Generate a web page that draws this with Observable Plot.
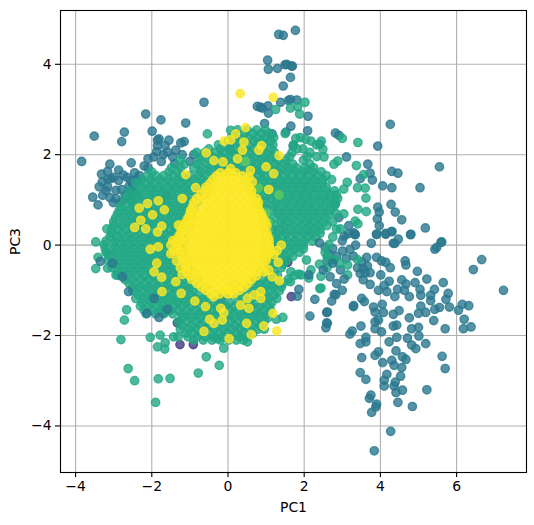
<!doctype html>
<html><head><meta charset="utf-8">
<style>html,body{margin:0;padding:0;background:#fff}svg{display:block}</style>
<script src="https://cdn.jsdelivr.net/npm/d3@7"></script>
<script src="https://cdn.jsdelivr.net/npm/@observablehq/plot@0.6"></script>
</head><body><div id="c"></div>
<script>
const tickValuesX = [-4,-2,0,2,4,6];
const tickValuesY = [-4,-2,0,2,4];
const classNames = ["a","b","c","d","e"];
const classColors = ["#443a83","#2a788e","#22a884","#5ec962","#fde725"];

const purplePts = [[-1.26,-2.2],[-.91,-2.2],[-1.33,-1.72],[1.66,-1.14],[1.57,-.38],[-.9,.9],[-1.6,1.1],[-.2,-1.2],[-1.7,-1.5]];

const tealPts = [[6.66,-.32],[6.44,-.54],[7.23,-1.0],[5.61,.07],[5.48,-.05],[5.43,-.09],[4.38,.04],[4.34,.04],[3.76,.04],[3.33,.24],
[3.9,.24],[4.14,.26],[4.3,.3],[4.47,.13],[4.8,.24],[3.01,-.13],[3.9,-.27],[4.03,-.35],[4.14,-.38],[4.26,-.5],[4.65,-.35],[4.67,-.44],[4.97,-.58],[5.22,-.75],[5.65,-.83],
[3.64,-.27],[3.51,-.37],[3.4,-.5],[3.55,-.52],[3.66,-.46],[3.47,-.63],[3.6,-.61],[3.73,-.61],[3.55,-.77],[3.73,-.87],[4.01,-.66],[3.95,-1.0],[4.1,-.89],[4.23,-.8],[4.17,-1.03],
[4.38,-1.14],[4.45,-.98],[4.56,-.77],[4.67,-.86],[4.63,-1.0],[4.76,-1.14],[4.91,-.83],[5.04,-.98],[5.06,-1.11],[5.42,-.98],[5.32,-1.11],[5.32,-1.23],[5.78,-1.07],[5.72,-1.2],[5.81,-1.37],
[5.43,-1.42],[5.55,-1.38],[5.19,-1.49],[5.06,-1.35],[5.0,-1.51],[4.76,-1.61],[4.49,-1.45],[4.34,-1.53],[6.05,-1.44],[6.15,-1.31],[6.32,-1.34],[6.2,-1.64],[6.18,-1.85],[6.38,-1.81],[5.7,-1.85],[5.4,-1.67],
[3.29,-1.36],[3.51,-1.18],[3.58,-1.25],[2.59,-1.49],[2.59,-1.72],[2.57,-1.83],[2.72,-1.24],[2.79,-1.09],[3.0,-1.0],[2.68,-.7],
[3.82,-1.37],[4.05,-1.31],[3.86,-1.48],[4.08,-1.49],[3.95,-1.66],[3.86,-1.7],[4.43,-1.77],[4.34,-1.79],[3.86,-1.85],[4.03,-1.92],[3.49,-1.79],[3.26,-1.9],[3.2,-1.97],
[4.82,-1.85],[5.0,-1.82],[5.01,-2.01],[4.71,-2.06],[4.43,-2.04],[4.23,-2.14],[3.62,-2.04],[3.62,-2.14],[3.47,-2.18],[4.82,-2.21],[4.93,-2.29],[5.19,-2.18],
[3.86,-2.44],[3.95,-2.36],[3.51,-2.49],[4.41,-2.34],[4.58,-2.47],[4.67,-2.53],[5.62,-2.46],[5.7,-2.73],[4.06,-2.6],[4.3,-2.55],[4.56,-2.71],[4.36,-2.66],[3.47,-2.82],[3.62,-2.97],[4.17,-2.86],[4.53,-2.9],[4.39,-3.03],[4.1,-2.99],[4.1,-3.12],[4.36,-3.12],[4.41,-3.26],[4.58,-3.21],[5.22,-3.2],
[3.75,-3.32],[3.71,-3.39],[3.9,-3.52],[3.88,-3.58],[3.77,-3.7],[4.46,-3.48],[4.84,-3.57],[4.27,-4.12],[3.84,-4.55],
[1.77,4.75],[1.45,4.64],[1.5,3.99],[1.67,3.96],[1.64,3.71],[1.45,3.52],[1.64,3.22],[1.81,3.21],[2.1,2.85],[4.26,2.67],[1.65,2.63],[2.09,2.53],[1.52,2.5],[2.82,2.48],[2.91,2.43],[3.93,2.19],[1.71,2.19],[2.41,2.23],[3.11,1.95],
[3.67,1.79],[3.73,1.59],[3.79,1.44],[3.47,1.47],[4.3,1.63],[4.46,1.59],[4.06,1.31],[4.3,1.27],[5.55,1.73],[5.04,1.27],[4.28,.9],[4.39,.73],[4.56,.56],[3.93,.84],[3.97,.73],[3.92,.58],[3.97,.43],[5.18,.38],[3.9,.24],[4.14,.24],[4.3,.3],[4.79,.23],[5.59,.06],[3.34,.23],[3.17,.43],[2.91,.61],[2.82,.91],
[-.63,3.16],[-2.16,2.9],[-1.76,2.77],[-1.11,2.7],[-1.99,2.52],[-2.72,2.5],[-2.79,2.29],[-3.51,2.41],[-3.84,1.85],[-3.1,1.79],[-2.54,1.82],[-2.1,1.91],[-2.1,1.71],[-3.32,1.57],[-2.87,1.66],[-3.16,1.63],[-2.87,1.43],[-3.07,1.47],[-3.38,1.29],[-3.55,1.06],[-3.41,.89],[-3.29,1.1],[-3.16,1.29],[-2.94,1.21],[-2.79,1.23],[-3.01,.94],[-2.94,1.03],[-2.55,1.43],[-2.55,1.21],[-2.33,1.54],[-2.5,1.32],[-2.42,1.14],
[-1.85,2.32],[-1.81,2.35],[-1.55,2.32],[-1.85,2.2],[-1.15,2.29],[-1.24,2.26],[-1.87,2.07],[-1.59,2.06],[-1.37,2.1],[.07,2.11],[.77,3.07],[.85,3.05],[1.05,3.08],[.96,2.69],[1.16,2.46],
[1.04,4.09],[1.33,4.66],[1.06,3.89],[1.3,3.91],[1.54,4.0],[1.69,3.96],[.9,3.03],[1.06,2.92],[1.38,3.16],[1.59,3.2],
[3.0,.1],[3.2,-.1],[3.35,.0],[3.1,-.3],[3.3,-.25],[2.95,-.55],[3.15,.25],[3.3,.27],[2.55,-.05],[2.65,-.2],[2.85,-.25],[3.05,.2],[2.75,-.08],[2.6,-.35],[2.83,-1.1],[3.3,-1.34],[2.61,-1.48],[2.61,-1.73],
[-3.3,1.4],[-3.15,1.45],[-3.0,1.5],[-2.75,1.55],[-2.65,1.5],[-2.45,1.6],[-2.4,1.45],[-2.6,1.3],[-2.7,1.1],[-2.55,1.0],[-2.8,.95],[-3.2,1.2],[-3.1,1.05],[-2.2,1.75],[-1.95,1.95],[-1.7,2.0],[-1.45,1.95],[-1.2,2.0],[-1.65,2.2],[-1.75,1.85],[-1.4,1.8],[-.9,2.0],[-1.0,1.85]];

const greenRows = [
[2.55,[.25,.5,.75,.98]],
[2.38,[.1,.32,.55,.78,1.0,1.2,1.9]],
[2.22,[-.25,.05,.3,.52,.75,.95,1.18,1.72,2.32]],
[2.05,[-.82,-.6,-.35,-.12,.1,.33,.55,.78,1.0,1.22,1.68,2.15]],
[1.88,[-1.25,-.75,-.5,-.28,-.05,.18,.4,.62,.85,1.08,1.3,1.52,1.98]],
[1.71,[-1.48,-1.25,-.9,-.68,-.45,-.22,0,.22,.45,.68,.9,1.12,1.35,1.58,1.8,2.02,2.25]],
[1.54,[-2.12,-1.9,-1.68,-1.45,-1.22,-1.0,-.78,-.55,.55,.78,1.0,1.22,1.45,1.68,1.9,2.12,2.35,2.58]],
[1.37,[-2.42,-2.2,-1.98,-1.75,-1.52,-1.3,-1.08,-.85,-.62,.68,.9,1.12,1.35,1.58,1.8,2.02,2.25,2.48]],
[1.2,[-2.6,-2.35,-2.12,-1.9,-1.68,-1.45,-1.22,-1.0,-.78,.8,1.0,1.22,1.45,1.68,1.9,2.12,2.35,2.58,2.8]],
[1.03,[-2.7,-2.48,-2.25,-2.02,-1.8,-1.58,-1.35,-1.12,.85,1.1,1.32,1.55,1.78,2.0,2.22,2.45,2.68,2.88]],
[.86,[-2.82,-2.6,-2.38,-2.15,-1.92,-1.7,-1.48,-1.25,-1.02,.95,1.2,1.42,1.65,1.88,2.1,2.32,2.55,2.78]],
[.69,[-2.9,-2.68,-2.45,-2.22,-2,-1.78,-1.55,-1.32,-1.1,1.0,1.3,1.52,1.75,1.98,2.2,2.42,2.65,2.85]],
[.52,[-3.0,-2.75,-2.52,-2.3,-2.08,-1.85,-1.62,-1.4,-1.18,1.1,1.4,1.62,1.85,2.08,2.3,2.52,2.75]],
[.35,[-3.05,-2.85,-2.62,-2.4,-2.18,-1.95,-1.72,-1.5,-1.28,1.15,1.3,1.52,1.75,1.98,2.2,2.42,2.85]],
[.18,[-3.1,-2.9,-2.68,-2.45,-2.22,-2,-1.78,-1.55,-1.32,1.2,1.4,1.62,1.85,2.08,2.3,2.75]],
[.01,[-3.25,-3,-2.78,-2.55,-2.32,-2.1,-1.88,-1.65,-1.42,1.2,1.3,1.52,1.75,1.98,2.65]],
[-.16,[-3.2,-2.95,-2.72,-2.5,-2.28,-2.05,-1.82,-1.6,-1.38,1.2,1.42,1.65,1.88,2.55]],
[-.33,[-3.15,-2.88,-2.65,-2.42,-2.2,-1.98,-1.75,-1.52,-1.3,1.15,1.32,1.55,2.7]],
[-.5,[-3.05,-2.8,-2.58,-2.35,-2.12,-1.9,-1.68,-1.45,-1.22,1.1,1.4,2.6]],
[-.67,[-2.9,-2.68,-2.45,-2.22,-2,-1.78,-1.55,-1.32,-1.1,1.1,1.3,1.75]],
[-.84,[-2.6,-2.38,-2.15,-1.92,-1.7,-1.48,-1.25,-1.02,.8,1.0,1.22,1.45]],
[-1.01,[-2.5,-2.28,-2.05,-1.82,-1.6,-1.38,-1.15,-.92,.7,.9,1.12,1.35]],
[-1.18,[-2.42,-2.2,-1.98,-1.75,-1.52,-1.3,-1.08,-.85,-.62,.4,.62,.85,1.05,1.28]],
[-1.35,[-2.3,-2.08,-1.85,-1.62,-1.4,-1.18,-.95,-.72,-.5,-.28,-.05,.18,.4,.62,.85,1.08]],
[-1.52,[-2.15,-1.9,-1.68,-1.45,-1.22,-1,-.78,-.55,-.32,-.1,.12,.35,.58,.8,1.02]],
[-1.69,[-1.3,-1.08,-.85,-.62,-.4,-.18,.05,.28,.5,.72,.95]],
[-1.86,[-1.25,-1.02,-.8,-.58,-.35,-.12,.1,.32,.55,.78,.95]],
[-2.03,[-1.05,-.82,-.6,-.38,-.15,.08,.3,.5]]
];

const greenRowsB = [
[2.47,[.18,.42,.65,.88,1.08]],
[2.30,[0,.22,.45,.68,.9,1.12,2.18]],
[2.13,[-.5,-.2,.02,.22,.45,.68,.9,1.12,1.82]],
[1.96,[-.68,-.42,-.18,.05,.28,.5,.72,.95,1.18,1.62,2.08]],
[1.79,[-1.15,-.8,-.55,-.32,-.1,.12,.35,.58,.8,1.02,1.25,1.48,1.7,2.15]],
[1.62,[-2.0,-1.55,-1.32,-.72,-.48,-.25,-.02,.2,.42,.65,.88,1.1,1.32,1.55,1.78,2.0,2.22,2.45]],
[1.45,[-2.25,-2.02,-1.78,-1.55,-1.32,-1.1,-.88,-.65,-.42,.45,.68,.9,1.12,1.35,1.58,1.8,2.02,2.25,2.48,2.72]],
[1.28,[-2.28,-2.05,-1.82,-1.6,-1.38,-1.15,-.92,-.7,-.5,.55,.78,1.0,1.22,1.45,1.68,1.9,2.12,2.35,2.58]],
[1.11,[-2.4,-2.18,-1.95,-1.72,-1.5,-1.28,-1.05,-.82,-.62,.65,.9,1.12,1.35,1.58,1.8,2.02,2.25,2.48,2.7,2.85]],
[.94,[-2.52,-2.3,-2.08,-1.85,-1.62,-1.4,-1.18,-.95,-.8,.78,1.0,1.25,1.48,1.7,1.92,2.15,2.38,2.6,2.82]],
[.77,[-2.85,-2.62,-2.4,-2.18,-1.95,-1.72,-1.5,-1.28,-1.05,-.88,.85,1.1,1.32,1.55,1.78,2.0,2.22,2.45,2.68]],
[.60,[-2.95,-2.72,-2.5,-2.28,-2.05,-1.82,-1.6,-1.38,-1.15,-.95,.92,1.2,1.42,1.65,1.88,2.1,2.32,2.55]],
[.43,[-3.0,-2.78,-2.55,-2.32,-2.1,-1.88,-1.65,-1.42,-1.2,-1.0,.98,1.25,1.48,1.7,1.92,2.15,2.38,2.6]],
[.26,[-3.05,-2.8,-2.58,-2.35,-2.12,-1.9,-1.68,-1.45,-1.22,-1.05,1.0,1.3,1.52,1.75,1.98,2.2,2.42]],
[.09,[-3.2,-2.95,-2.72,-2.5,-2.28,-2.05,-1.82,-1.6,-1.38,-1.15,1.02,1.32,1.55,1.78,2.0,2.22]],
[-.08,[-3.22,-2.98,-2.75,-2.52,-2.3,-2.08,-1.85,-1.62,-1.4,-1.18,1.02,1.3,1.52,1.75,1.98]],
[-.25,[-3.12,-2.92,-2.7,-2.48,-2.25,-2.02,-1.8,-1.58,-1.35,-1.12,1.0,1.25,1.48,1.7,2.6]],
[-.42,[-3.05,-2.85,-2.62,-2.4,-2.18,-1.95,-1.72,-1.5,-1.28,-1.05,.95,1.22,1.45,2.4]],
[-.59,[-2.9,-2.72,-2.5,-2.28,-2.05,-1.82,-1.6,-1.38,-1.15,-.95,.85,1.2,1.65]],
[-.76,[-2.7,-2.52,-2.3,-2.08,-1.85,-1.62,-1.4,-1.18,-.95,-.75,.7,.9,1.12,1.58]],
[-.93,[-2.5,-2.32,-2.1,-1.88,-1.65,-1.42,-1.2,-.98,-.75,-.55,.5,.72,.95,1.18,1.4]],
[-1.10,[-2.35,-2.12,-1.9,-1.68,-1.45,-1.22,-1.0,-.78,-.55,-.32,-.1,.15,.35,.55,.78,1.0,1.22]],
[-1.27,[-2.25,-2.02,-1.78,-1.55,-1.32,-1.1,-.88,-.65,-.42,-.2,.02,.25,.48,.7,.92,1.15]],
[-1.44,[-2.2,-1.98,-1.75,-1.52,-1.3,-1.08,-.85,-.62,-.4,-.18,.05,.28,.5,.72,.95,1.12]],
[-1.61,[-1.2,-.98,-.75,-.52,-.3,-.08,.15,.38,.6,.82,1.05]],
[-1.78,[-1.2,-.95,-.72,-.5,-.28,-.05,.18,.4,.62,.85]],
[-1.95,[-1.1,-.9,-.68,-.45,-.22,0,.22,.42,.65]],
[-2.1,[-.9,-.65,-.42,-.2,.02,.22,.4]]
];

const greenPts = [[2.02,3.16],[1.83,3.06],[1.78,2.36],[2.04,2.34],[1.5,2.47],[2.45,2.3],[3.0,2.36],[3.41,2.27],[2.49,2.12],[1.97,2.13],[3.37,1.76],[2.88,1.86],[2.78,1.79],[2.33,1.96],[2.52,1.95],[3.56,1.56],[3.13,1.39],[3.04,1.24],[3.4,1.27],[3.6,1.26],[3.62,1.04],[3.41,.79],[3.63,.74],[3.04,.69],[3.34,.53],[3.41,.47],[2.95,.36],
[-.54,2.46],[-3.18,.36],[.07,2.54],[1.25,3.0],[1.64,3.03],[1.88,2.9],
[-3.47,.07],[-3.41,-.27],[-3.47,-.52],[-3.16,-.18],[-3.16,-.51],[-2.94,-.66],[-2.66,-1.43],[-2.72,-1.66],[-2.81,-2.09],[-2.04,-2.04],[-1.78,-1.99],[-1.65,-2.16],[-1.85,-2.25],[-1.66,-2.3],[-1.43,-2.03],[-1.31,-2.03],
[-.57,-2.47],[-.23,-2.66],[-.78,-2.83],[-.11,-2.28],[-2.62,-2.73],[-2.45,-3.0],[-1.83,-2.96],[-1.52,-2.95],[-1.9,-3.48],[.51,-2.14],[-.28,-2.07],[1.44,-1.6],[1.27,-1.64],
[1.86,-.64],[2.12,-.73],[2.41,-.96],[2.06,-.33],[1.64,-.81],
[2.79,-.32],[3.14,-.44],[3.14,-.66],[2.44,-.69],[2.18,-.55],[1.91,-.66],[2.44,-.95],[2.92,-.4],[3.4,-.32]];

const tealOverPts = [[-2.61,-1.03],[-2.13,-1.51],[-1.94,-1.18],[-1.81,-1.6],[-1.59,-1.42],[-2.77,-.7],[-3.03,-.4],[-3.35,-.36],[1.86,-.98],[2.12,-.66],[1.82,-1.13],[2.15,-1.57],[2.28,-1.2],[3.05,-.75],[2.85,-.85],[2.5,-.55],[2.75,-.4],[2.4,.05]];

const lightPts = [[.46,1.85],[1.34,1.11],[-1.25,.45],[-1.15,.4],[.8,1.26],[.99,.7],[.15,-.87],[.22,-.9],[1.05,.5]];

const yellowPts = [[.32,3.35],[1.19,3.27],[.46,2.6],[.2,2.46],[.07,2.33],[-.1,2.3],[.42,2.28],[-.57,2.04],[.88,2.2],[.81,2.1],[.38,2.1],[.25,1.91],[-.37,1.87],[-.13,1.84],[.07,1.69],[1.0,1.73],[1.2,1.58],[.59,1.65],[.55,1.51],[1.34,1.98],[-1.11,1.56],[-.85,1.27],[-1.2,1.03],[-2.33,.82],[-2.11,.92],[-1.83,.98],[-1.67,.78],[-1.98,.67],[-2.29,.55],[-2.45,.39],[-2.16,.36],[-1.74,.42],[-1.3,.44],[-1.85,.29],[1.07,1.23],[.64,1.4],
[1.28,-1.9],[1.18,-1.51],[.94,-1.79],[.61,-1.98],[.03,-2.07],[.49,-1.73],[-.63,-1.91],[-.15,-1.66],[-.11,-1.5],[-.19,-1.4],[-.48,-1.64],[-.37,-1.73],[-.59,-1.36],[-.87,-1.24],[-1.23,-1.07],[-1.73,-1.03],[-1.74,-.71],[-1.94,-.59],[-1.87,-.4],[-2.04,-.09],[-1.83,-.04],[-1.5,-.19],[-1.37,-.81],[.55,-1.4],[.33,-1.33],[.86,-1.03],[.69,-1.1],[.86,-1.18],[.51,-1.18],[1.35,-.79],[1.16,-.7],[1.07,-.55],[1.32,-.38],[1.21,-.21],[1.4,0],[1.29,-.12],[-.06,-.99],[-.37,-1.14],
[-1.5,0],[-1.45,.1],[-1.42,-.14],[-1.35,-.35],[-1.25,-.5],[-1.2,-.65]];

const yellowRows = [
[1.6,[-.2,0,.2]],
[1.45,[-.4,-.18,.05,.28,.48]],
[1.28,[-.58,-.35,-.12,.1,.33,.55]],
[1.11,[-.72,-.5,-.28,-.05,.18,.4,.62]],
[.94,[-.9,-.68,-.45,-.22,0,.22,.45,.68,.8]],
[.77,[-.98,-.75,-.52,-.3,-.08,.15,.38,.6,.82]],
[.6,[-1.05,-.85,-.62,-.4,-.18,.05,.28,.5,.72,.92]],
[.43,[-1.15,-.92,-.7,-.48,-.25,-.02,.2,.42,.65,.88,1.02]],
[.26,[-1.25,-1.0,-.78,-.55,-.32,-.1,.12,.35,.58,.8,1.02]],
[.09,[-1.35,-1.1,-.88,-.65,-.42,-.2,.02,.25,.48,.7,.92,1.08]],
[-.08,[-1.3,-1.02,-.8,-.58,-.35,-.12,.1,.32,.55,.78,1.0,1.1]],
[-.25,[-1.22,-.98,-.75,-.52,-.3,-.08,.15,.38,.6,.82,1.02]],
[-.42,[-1.12,-.88,-.65,-.42,-.2,.02,.25,.48,.7,.92]],
[-.59,[-1.08,-.82,-.6,-.38,-.15,.08,.3,.52,.75,.95]],
[-.76,[-.95,-.72,-.5,-.28,-.05,.18,.4,.62]],
[-.93,[-.7,-.48,-.25,-.02,.2,.42]],
[-1.08,[-.45,-.22,0,.15]]
];

const yellowRowsB = [
[1.53,[-.3,-.08,.15,.38]],
[1.36,[-.48,-.25,-.02,.2,.45]],
[1.2,[-.62,-.4,-.18,.05,.28,.5,.62]],
[1.03,[-.82,-.6,-.38,-.15,.08,.32,.55,.75]],
[.86,[-.92,-.58,-.35,-.12,.1,.33,.55,.78]],
[.69,[-1.0,-.8,-.58,-.35,-.12,.1,.32,.55,.78,.88]],
[.52,[-1.1,-.95,-.72,-.5,-.28,-.05,.18,.4,.62,.85,.98]],
[.35,[-1.2,-1.02,-.8,-.58,-.35,-.12,.1,.32,.55,.78,.95]],
[.18,[-1.3,-1.12,-.9,-.68,-.45,-.22,0,.22,.45,.68,.9,1.05]],
[0,[-1.32,-1.18,-.95,-.72,-.5,-.28,-.05,.18,.4,.62,.85,1.08]],
[-.17,[-1.25,-1.1,-.88,-.65,-.42,-.2,.02,.25,.48,.7,.92,1.08]],
[-.34,[-1.18,-1.0,-.78,-.55,-.32,-.1,.12,.35,.58,.8,1.0]],
[-.5,[-1.1,-.95,-.72,-.5,-.28,-.05,.18,.4,.62,.85]],
[-.68,[-1.0,-.82,-.6,-.38,-.15,.08,.3,.52,.75]],
[-.85,[-.82,-.6,-.38,-.15,.08,.3,.52]],
[-1.0,[-.58,-.35,-.12,.1,.3]]
];

const fromPairs = (pts, c) => pts.map(([x,y]) => ({x,y,c}));
const fromRows = (rows, c) => rows.flatMap(([y,xs]) => xs.map(x => ({x,y,c})));
const table = [
  ...fromPairs(purplePts,"a"),
  ...fromPairs(tealPts,"b"),
  ...fromRows(greenRows,"c"),
  ...fromRows(greenRowsB,"c"),
  ...fromPairs(greenPts,"c"),
  ...fromPairs(tealOverPts,"b"),
  ...fromPairs(lightPts,"d"),
  ...fromRows(yellowRows,"e"),
  ...fromRows(yellowRowsB,"e"),
  ...fromPairs(yellowPts,"e")
];

const chart = Plot.plot({
  width: 534, height: 525,
  marginLeft: 60, marginRight: 8, marginTop: 10, marginBottom: 53,
  style: {fontFamily: "'DejaVu Sans', sans-serif", fontSize: "13.9px", color: "#000", background: "#fff"},
  x: {domain: [-4.396, 7.835]},
  y: {domain: [-5.03, 5.19]},
  color: {type: "ordinal", domain: classNames, range: classColors},
  marks: [
    Plot.gridX(tickValuesX, {stroke: "#b0b0b0", strokeOpacity: 1, strokeWidth: 1.1}),
    Plot.gridY(tickValuesY, {stroke: "#b0b0b0", strokeOpacity: 1, strokeWidth: 1.1}),
    Plot.dot(table, {x: "x", y: "y", r: 4.17, fill: "c", stroke: "c", strokeWidth: 1.39, fillOpacity: 0.8, strokeOpacity: 0.8}),
    Plot.frame({stroke: "#000", strokeWidth: 1.1}),
    Plot.axisX(tickValuesX, {tickSize: 5, tickPadding: 4, label: "PC1", labelAnchor: "center", labelArrow: "none", labelOffset: 39, stroke: "#000", strokeWidth: 1.1}),
    Plot.axisY(tickValuesY, {tickSize: 5, tickPadding: 4, label: "PC3", labelAnchor: "center", labelArrow: "none", labelOffset: 50, stroke: "#000", strokeWidth: 1.1})
  ]
});
document.getElementById("c").appendChild(chart);
</script></body></html>
